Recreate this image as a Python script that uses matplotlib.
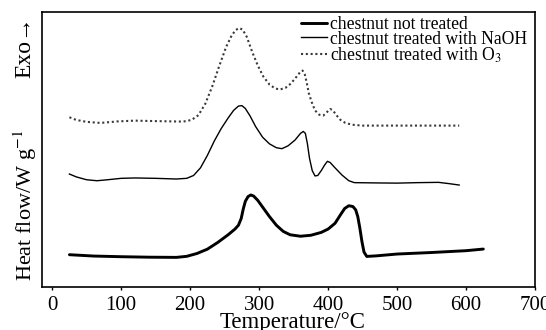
import matplotlib
matplotlib.use("Agg")
import matplotlib.pyplot as plt

plt.rcParams['font.family'] = ['Liberation Serif', 'DejaVu Serif']
plt.rcParams['mathtext.fontset'] = 'stix'

# DSC traces (temperature in °C, heat flow in arbitrary offset units)
t_raw = [25, 60, 100, 140, 180, 195, 210, 225, 240, 255, 265, 270, 274, 277, 280, 284,
         288, 292, 298, 305, 315, 325, 335, 345, 360, 375, 390, 400, 410, 418, 424, 430,
         436, 440, 443, 446, 449, 452, 456, 470, 500, 550, 600, 625]
hf_raw = [34.2, 32.8, 32.1, 31.6, 31.4, 32.5, 35.5, 40.0, 47.0, 55.0, 61.0, 65.0, 72.0,
          82.0, 90.0, 95.0, 96.6, 95.5, 91.0, 84.0, 74.0, 65.0, 58.5, 55.0, 53.5, 54.5,
          57.5, 61.0, 67.0, 76.0, 82.5, 85.4, 84.5, 81.0, 74.0, 62.0, 48.0, 37.0, 32.4,
          33.0, 34.9, 36.5, 38.4, 40.1]

t_naoh = [25, 35, 50, 65, 80, 100, 120, 150, 180, 195, 205, 215, 225, 235, 245, 255, 263,
          270, 275, 280, 287, 295, 305, 315, 325, 333, 342, 352, 360, 364, 367, 370, 373,
          377, 381, 385, 390, 395, 399, 403, 410, 420, 430, 438, 470, 500, 530, 560, 575,
          590]
hf_naoh = [118.5, 115.5, 112.5, 111.5, 112.5, 114.0, 114.4, 114.0, 113.3, 114.0, 117.0,
           125.0, 138.0, 153.0, 166.0, 177.0, 185.0, 189.5, 190.0, 187.0, 179.0, 168.0,
           157.0, 150.0, 146.0, 145.0, 148.0, 154.0, 161.0, 163.0, 161.0, 150.0, 135.0,
           122.0, 116.5, 117.0, 122.0, 128.0, 131.8, 130.5, 125.0, 117.5, 111.5, 109.5,
           109.2, 109.0, 109.5, 109.8, 108.5, 107.0]

t_o3 = [25, 35, 50, 70, 95, 120, 150, 190, 202, 212, 222, 232, 242, 252, 260, 266, 271,
        276, 282, 290, 298, 306, 315, 323, 330, 338, 346, 354, 360, 363, 366, 369, 372,
        376, 381, 387, 393, 398, 403, 407, 412, 418, 425, 435, 450, 500, 590]
hf_o3 = [177.8, 175.0, 173.0, 171.9, 173.5, 174.3, 173.8, 173.3, 175.0, 180.0, 192.0,
         210.0, 231.0, 251.0, 263.0, 269.0, 271.0, 269.5, 262.0, 246.0, 232.0, 220.5,
         212.0, 208.0, 206.8, 208.5, 213.0, 220.0, 225.5, 226.6, 223.0, 214.0, 203.0,
         194.0, 185.0, 180.5, 179.6, 183.0, 186.5, 185.0, 180.0, 175.0, 171.9, 170.0,
         169.1, 169.1, 169.1]

labels = ["chestnut not treated", "chestnut treated with NaOH",
          "chestnut treated with O$_3$"]
x_ticks = [0, 100, 200, 300, 400, 500, 600, 700]

fig = plt.figure(figsize=(5.46, 3.30), dpi=100)
ax = fig.add_axes([0.0766, 0.129, 0.9034, 0.834])

ax.plot(t_raw, hf_raw, color='black', lw=2.1, solid_joinstyle='round',
        solid_capstyle='round', label=labels[0])
ax.plot(t_naoh, hf_naoh, color='black', lw=1.0, solid_joinstyle='round',
        label=labels[1])
ax.plot(t_o3, hf_o3, color='#3a3a3a', lw=1.5, linestyle=(0, (1.0, 1.3)),
        label=labels[2])

ax.set_xlim(-15, 700)
ax.set_ylim(0, 287.6)
ax.set_xticks(x_ticks)
ax.set_yticks([])
ax.tick_params(axis='x', labelsize=15, length=2.5, width=1, direction='out', pad=4)
for s in ax.spines.values():
    s.set_linewidth(1.2)

# axis titles
fig.text(0.535, 0.006, "Temperature/°C", fontsize=16.5, ha='center', va='baseline')
fig.text(0.046, 0.379, "Heat flow/W g$^{-1}$", rotation=90, fontsize=16,
         ha='center', va='center')
fig.text(0.046, 0.857, "Exo\u2192", rotation=90, fontsize=17, ha='center',
         va='center')

leg = ax.legend(loc='upper right', bbox_to_anchor=(0.983, 0.987), frameon=False,
                fontsize=12.7, handlelength=1.45, handletextpad=0.15,
                labelspacing=-0.12, borderaxespad=0.0, borderpad=0.0)

fig.savefig("out.png", dpi=100)
